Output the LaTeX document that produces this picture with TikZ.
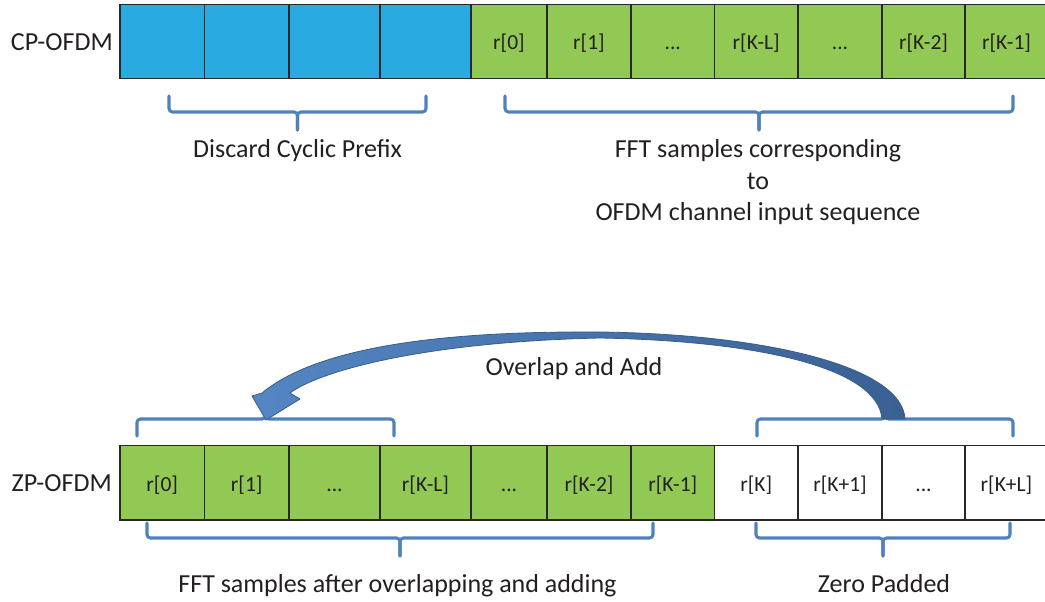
\documentclass[tikz,border=0pt]{standalone}
\usepackage{fontspec}
\setmainfont{Carlito}
\definecolor{cpblue}{RGB}{41,171,226}
\definecolor{fftgreen}{RGB}{146,200,84}
\definecolor{bracecol}{RGB}{79,129,189}
\definecolor{cellline}{RGB}{40,40,40}
\definecolor{txtcol}{RGB}{35,31,32}
\definecolor{arrowlight}{RGB}{84,134,195}
\definecolor{arrowdark}{RGB}{58,96,148}
\definecolor{arrowedge}{RGB}{56,93,138}
\newcommand\celldots{...}
% horizontal brace: left x, right x, end y, bar y, tip y
\newcommand\ofdmbrace[5]{%
  \pgfmathsetmacro\bm{(#1+#2)/2}%
  \draw[bracestyle] (#1,#3) -- (#1,#4) -- (\bm,#4) -- (\bm,#5);
  \draw[bracestyle] (#2,#3) -- (#2,#4) -- (\bm,#4) -- (\bm,#5);
}
\begin{document}
\begin{tikzpicture}[x=1pt,y=-1pt,
  cell/.style={draw=cellline, line width=1.3pt, inner sep=0pt,
    minimum height=74.4pt, text height=19pt, text depth=2pt,
    text=txtcol, font=\fontsize{21.5}{25}\selectfont},
  lbl/.style={text=txtcol, inner sep=0pt, font=\fontsize{26}{31.5}\selectfont},
  bracestyle/.style={draw=bracecol, line width=3.1pt, rounded corners=3.5pt, line cap=round},
  arrowbody/.style={left color=arrowlight, right color=arrowdark, draw=arrowedge, line width=0.8pt, line join=round}]
\useasboundingbox (0,0) rectangle (1045,602);
\clip (0,0) rectangle (1045,602);

% CP-OFDM symbol: cyclic prefix followed by the FFT window
\foreach \xa/\xb/\t/\f [count=\i] in {120/204.5//cpblue, 204.5/289//cpblue, 289/380//cpblue, 380/471//cpblue,
    471/547/r[0]/fftgreen, 547/631/r[1]/fftgreen, 631/714.5/\celldots/fftgreen, 714.5/798/r[K-L]/fftgreen,
    798/882/\celldots/fftgreen, 882/965/r[K-2]/fftgreen, 965/1048/r[K-1]/fftgreen}{
  \pgfmathsetmacro\w{\xb-\xa}
  \pgfmathsetmacro\cx{(\xa+\xb)/2}
  \node[cell, fill=\f, minimum width=\w pt] (top\i) at (\cx,41.5) {\t};
}

% ZP-OFDM symbol: data samples followed by the zero-padded tail
\foreach \xa/\xb/\t/\f [count=\i] in {120/204.5/r[0]/fftgreen, 204.5/289/r[1]/fftgreen, 289/380/\celldots/fftgreen,
    380/471/r[K-L]/fftgreen, 471/547/\celldots/fftgreen, 547/631/r[K-2]/fftgreen, 631/714.5/r[K-1]/fftgreen,
    714.5/798/r[K]/white, 798/882/r[K+1]/white, 882/965/\celldots/white, 965/1048/r[K+L]/white}{
  \pgfmathsetmacro\w{\xb-\xa}
  \pgfmathsetmacro\cx{(\xa+\xb)/2}
  \node[cell, fill=\f, minimum width=\w pt] (bot\i) at (\cx,482.9) {\t};
}

% row labels
\node[lbl, anchor=base east] (cplabel) at (113,50.7) {CP-OFDM};
\node[lbl, anchor=base east] (zplabel) at (112,491) {ZP-OFDM};

% braces under the CP-OFDM symbol
\ofdmbrace{169}{426}{96}{112}{130}
\ofdmbrace{505}{1013}{96}{112}{130}
\node[lbl, anchor=base] (discard) at (297.5,157.5) {Discard Cyclic Prefix};
\node[lbl, anchor=base] (fftA) at (758,157.5) {FFT samples corresponding};
\node[lbl, anchor=base] (fftB) at (758,189.2) {to};
\node[lbl, anchor=base] (fftC) at (758,220.8) {OFDM channel input sequence};

% braces above the ZP-OFDM symbol
\ofdmbrace{137}{394}{436}{419}{404}
\ofdmbrace{757}{1013}{436}{419}{404}

% braces below the ZP-OFDM symbol
\ofdmbrace{147}{653}{523}{538}{556}
\ofdmbrace{756}{1010}{523}{538}{556}
\node[lbl, anchor=base] (fftafter) at (397.5,592.7) {FFT samples after overlapping and adding};
\node[lbl, anchor=base] (zeropad) at (884,592.7) {Zero Padded};

% curved block arrow: zero-padded tail folded onto the first samples
\path[arrowbody] (905,419) .. controls (902,365) and (760,334) .. (600,332)
  .. controls (450,331) and (320,345) .. (262,393)
  -- (252,396) -- (266,420) -- (300,399) -- (290,393)
  .. controls (318,372) and (420,342) .. (600,338)
  .. controls (760,341) and (878,368) .. (882,419) -- cycle;
\node[lbl, anchor=base] (ola) at (574,375) {Overlap and Add};
\end{tikzpicture}
\end{document}
